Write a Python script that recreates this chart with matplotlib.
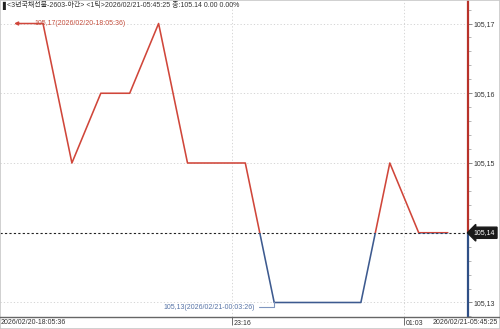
import matplotlib
matplotlib.use("Agg")
import matplotlib.pyplot as plt
from matplotlib.patches import Rectangle
from matplotlib.ticker import MultipleLocator, FuncFormatter

# tick-by-tick prices (one point per tick)
prices = [105.17, 105.15, 105.16, 105.16, 105.17, 105.15, 105.15, 105.15,
          105.13, 105.13, 105.13, 105.13, 105.15, 105.14, 105.14]
base_price = 105.14
y_ticks = [105.13, 105.14, 105.15, 105.16, 105.17]
time_tick_pos = [6.54, 12.49]
time_tick_labels = ["23:16", "01:03"]
start_label = "2026/02/20-18:05:36"
end_label = "2026/02/21-05:45:25"
max_label = "105,17(2026/02/20-18:05:36)"
min_label = "105,13(2026/02/21-00:03:26)"
header = "<3년국채선물-2603-야간> <1틱>2026/02/21-05:45:25 종:105.14 0.00 0.00%"

plt.rcParams["font.family"] = ["Liberation Sans", "Noto Sans CJK KR", "DejaVu Sans"]

RED = "#d0463a"
BLUE = "#3d5a8f"
GRID = "#cfcfcf"
TXT = "#333333"
FS = 5.0

fig = plt.figure(figsize=(5, 3.29), dpi=100)
ax = fig.add_axes([0, 12 / 329, 468 / 500, 317 / 329])

x = list(range(len(prices)))
ax.set_xlim(-1.488, 14.706)
ax.set_ylim(105.12792, 105.17337)

# price line: red above the base price, blue below
top = ax.get_ylim()[1]
bot = ax.get_ylim()[0]
for color, y0, y1 in [(RED, base_price, top), (BLUE, bot, base_price)]:
    ln, = ax.plot(x, prices, color=color, lw=1.15, zorder=3)
    clip = Rectangle((-5, y0), 30, y1 - y0, transform=ax.transData)
    ln.set_clip_path(clip)

# base price dashed line
ax.axhline(base_price, color="#222222", lw=0.8, ls=(0, (2, 2)), zorder=2)

# grid
for v in y_ticks:
    if v != base_price:
        ax.axhline(v, color=GRID, lw=0.6, ls=(0, (1.5, 2.5)), zorder=1)
for p in time_tick_pos:
    ax.axvline(p, color=GRID, lw=0.6, ls=(0, (1.5, 2.5)), zorder=1)

# right axis drawn as split coloured line
xr = ax.get_xlim()[1]
ax.vlines(xr, base_price, top, color="#b8322a", lw=1.6, clip_on=False, zorder=4)
ax.vlines(xr, bot, base_price, color="#2f4f86", lw=1.6, clip_on=False, zorder=4)

for s in ["top", "left", "right", "bottom"]:
    ax.spines[s].set_visible(False)

ax.yaxis.tick_right()
ax.set_yticks([v for v in y_ticks if v != base_price])
ax.yaxis.set_minor_locator(MultipleLocator(0.002))
ax.yaxis.set_major_formatter(FuncFormatter(lambda v, p: f"{v:.2f}".replace(".", ",")))
ax.tick_params(axis="y", which="major", length=3, width=0.6, color="#777777",
               labelsize=FS, labelcolor=TXT, pad=1)
ax.tick_params(axis="y", which="minor", length=2, width=0.5, color="#999999")

# time ticks on the x axis, labels to the right of each tick
ax.set_xticks(time_tick_pos)
ax.set_xticklabels([])
ax.tick_params(axis="x", length=5.8, width=0.6, color="#555555", direction="out")
for p, lab in zip(time_tick_pos, time_tick_labels):
    ax.annotate(lab, xy=(p, 0), xycoords=ax.get_xaxis_transform(), xytext=(1.2, -4.4),
                textcoords="offset points", fontsize=FS, color=TXT, va="center",
                ha="left", annotation_clip=False)

# x axis baseline across the whole figure
fig.add_artist(plt.Line2D([0, 1], [12 / 329, 12 / 329], color="#666666", lw=1.0))
fig.text(0.002, 6 / 329, start_label, fontsize=FS, color=TXT, va="center", ha="left")
fig.text(0.996, 6 / 329, end_label, fontsize=FS, color=TXT, va="center", ha="right")

# current price box
ax.annotate(f"{base_price:.2f}".replace(".", ","), xy=(xr, base_price),
            xytext=(4, 0), textcoords="offset points", va="center", ha="left",
            fontsize=FS, color="white", annotation_clip=False, zorder=6,
            bbox=dict(boxstyle="larrow,pad=0.3", fc="#1a1a1a", ec="#1a1a1a"))

# max / min annotations
imax = prices.index(max(prices))
ax.annotate("", xy=(imax - 1, prices[imax]), xytext=(imax, prices[imax]),
            arrowprops=dict(arrowstyle="-|>", color=RED, lw=1.1, mutation_scale=5,
                            shrinkA=0, shrinkB=0), zorder=4)
ax.annotate(max_label, xy=(imax, prices[imax]), xytext=(-6, 0),
            textcoords="offset points", fontsize=FS, color="#c5503f",
            va="center", ha="left", zorder=5)
imin = prices.index(min(prices))
ax.annotate(min_label, xy=(imin, prices[imin]), xytext=(-14, -3.6),
            textcoords="offset points", fontsize=FS, color="#5673a6",
            va="center", ha="right", zorder=5,
            arrowprops=dict(arrowstyle="-", color="#7f96bf", lw=0.8, shrinkA=1, shrinkB=0,
                            connectionstyle="angle,angleA=0,angleB=90,rad=0"))

# header
fig.text(0.004, 1 - 5 / 329, "\u258c", fontsize=5.5, color="#222222", va="center",
         family=["DejaVu Sans"])
fig.text(0.014, 1 - 5 / 329, header, fontsize=FS, color=TXT, va="center", ha="left")

# outer border
fig.add_artist(Rectangle((0, 0), 1, 1, transform=fig.transFigure, fill=False,
                         ec="#c8c8c8", lw=1.2))

fig.savefig("out.png", dpi=100)
